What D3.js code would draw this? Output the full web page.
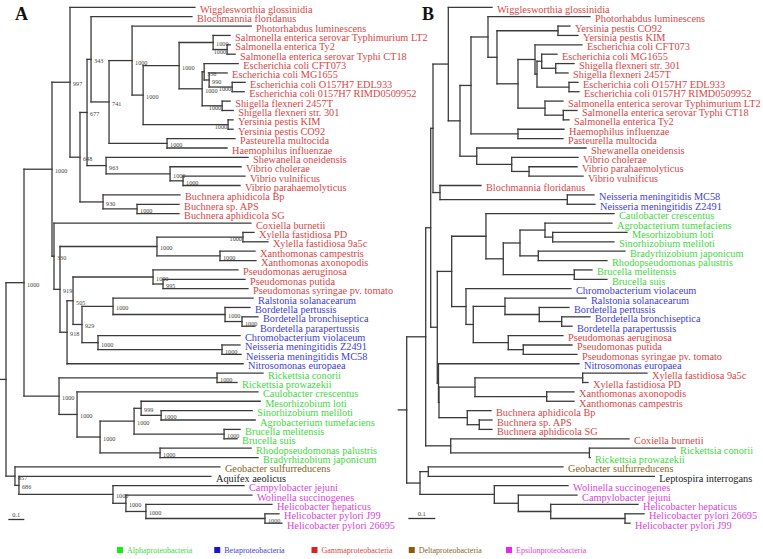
<!DOCTYPE html>
<html><head><meta charset="utf-8">
<script src="https://cdn.jsdelivr.net/npm/d3@7"></script>
<style>body{margin:0;background:#fff}svg{display:block}</style>
</head><body><svg id="c" width="763" height="559"></svg>
<script>
// ---------------- DATA ----------------
// Tree A (bootstrap-supported), branch lengths in substitutions/site
const newickA = "((((Wigglesworthia glossinidia:0.781,(((Blochmannia floridanus:0.631,((Photorhabdus luminescens:0.744,(((Salmonella enterica serovar Typhimurium LT2:0.106,(Salmonella enterica Ty2:0.019,Salmonella enterica serovar Typhi CT18:0.05)1000:0.0875)1000:0.2125,((Escherichia coli CFT073:0.2125,(Escherichia coli MG1655:0.1125,(Escherichia coli O157H7 EDL933:0.081,Escherichia coli 0157H7 RIMD0509952:0.075)1000:0.144)990:0.031)538:0.0125,(Shigella flexneri 2457T:0.05,Shigella flexneri str. 301:0.069)1000:0.125)1000:0.144)1000:0.225,(Yersinia pestis KIM:0.031,Yersinia pestis CO92:0.031)1000:0.531)1000:0.069)1000:0.144,(Pasteurella multocida:0.425,Haemophilus influenzae:0.375)1000:0.3625)741:0.1125)343:0.025,(Shewanella oneidensis:0.8875,(Vibrio cholerae:0.444,(Vibrio vulnificus:0.3875,Vibrio parahaemolyticus:0.356)1000:0.081)1000:0.4)963:0.119)677:0.044,(Buchnera aphidicola Bp:0.481,(Buchnera sp. APS:0.2625,Buchnera aphidicola SG:0.2625)1000:0.2125)930:0.144)648:0.0625)997:0.1125,(Coxiella burnetii:1.231,(((Xylella fastidiosa PD:0.069,Xylella fastidiosa 9a5c:0.156)1000:0.5375,(Xanthomonas campestris:0.219,Xanthomonas axonopodis:0.225)1000:0.394)1000:0.606,(((Pseudomonas aeruginosa:0.531,(Pseudomonas putida:0.5125,Pseudomonas syringae pv. tomato:0.531)995:0.0625)1000:0.5,((Ralstonia solanacearum:0.875,(Bordetella pertussis:0.156,(Bordetella bronchiseptica:0.1,Bordetella parapertussis:0.081)1000:0.106)1000:0.7)1000:0.194,(Chromobacterium violaceum:0.8875,(Neisseria meningitidis Z2491:0.1125,Neisseria meningitidis MC58:0.119)1000:0.775)1000:0.1)929:0.056)505:0.0375,Nitrosomonas europaea:1.1)918:0.044)919:0.0375)330:0.0125)1000:0.175,((Rickettsia conorii:0.2875,Rickettsia prowazekii:0.125)1000:0.9875,(Caulobacter crescentus:1.131,(((Mesorhizobium loti:0.744,(Sinorhizobium meliloti:0.569,Agrobacterium tumefaciens:0.5875)1000:0.125)999:0.044,(Brucella melitensis:0.1,Brucella suis:0.081)1000:0.5625)1000:0.2125,(Rhodopseudomonas palustris:0.569,Bradyrhizobium japonicum:0.6125)1000:0.375)1000:0.144)1000:0.1125)1000:0.219)1000:0.1125,(Geobacter sulfurreducens:1.281,(Aquifex aeolicus:1.2,(Campylobacter jejuni:0.819,(Wolinella succinogenes:0.7875,(Helicobacter hepaticus:0.7875,(Helicobacter pylori J99:0.0875,Helicobacter pylori 26695:0.106)1000:0.744)1000:0.125)1000:0.081)1000:0.5875)686:0.025)857:0.056);";

// Tree B
const newickB = "(((((Wigglesworthia glossinidia:0.1619,(((Photorhabdus luminescens:0.3778,((Yersinia pestis CO92:0.0444,Yersinia pestis KIM:0.0741):0.2259,((Escherichia coli CFT073:0.174,((Escherichia coli MG1655:0.0567,(Shigella flexneri str. 301:0.0678,Shigella flexneri 2457T:0.0456):0.0519):0.0174,(Escherichia coli O157H7 EDL933:0.0333,Escherichia coli 0157H7 RIMD0509952:0.037):0.1185):0.0074):0.063,(Salmonella enterica serovar Typhimurium LT2:0.0667,(Salmonella enterica serovar Typhi CT18:0.0507,Salmonella enterica Ty2:0.0211):0.0678):0.1):0.0778):0.0333):0.063,(Haemophilus influenzae:0.1704,Pasteurella multocida:0.1667):0.174):0.0407,(Shewanella oneidensis:0.4048,(Vibrio cholerae:0.2456,(Vibrio parahaemolyticus:0.1778,Vibrio vulnificus:0.2):0.0641):0.1296):0.062):0.0433):0.0567,(Blochmannia floridanus:0.1519,(Neisseria meningitidis MC58:0.0989,Neisseria meningitidis Z2491:0.1026):0.4715):0.0259):0.0085,(((Caulobacter crescentus:0.4741,(((Agrobacterium tumefaciens:0.2481,(Mesorhizobium loti:0.2752,Sinorhizobium meliloti:0.227):0.0285):0.0926,(Bradyrhizobium japonicum:0.3211,Rhodopseudomonas palustris:0.2544):0.0678):0.0619,(Brucella melitensis:0.0656,Brucella suis:0.121):0.263):0.0641):0.127,(Chromobacterium violaceum:0.3889,((Ralstonia solanacearum:0.3,(Bordetella pertussis:0.11,(Bordetella bronchiseptica:0.1048,Bordetella parapertussis:0.0381):0.083):0.127):0.1174,(Pseudomonas aeruginosa:0.2026,(Pseudomonas putida:0.1804,Pseudomonas syringae pv. tomato:0.1989):0.0556):0.1296):0.027):0.053):0.0533,(Nitrosomonas europaea:0.5204,(((Xylella fastidiosa 9a5c:0.2381,Xylella fastidiosa PD:0.0196):0.3989,(Xanthomonas axonopodis:0.1011,Xanthomonas campestris:0.1011):0.2656):0.1333,(Buchnera aphidicola Bp:0.0878,(Buchnera sp. APS:0.047,Buchnera aphidicola SG:0.047):0.0444):0.1048):0.0019):0.0044):0.0244):0.0185,(Coxiella burnetii:0.6604,(Rickettsia conorii:0.3174,Rickettsia prowazekii:0.0026):0.5137):0.0926):0.0704,((Geobacter sulfurreducens:0.4989,Leptospira interrogans:0.837):0.0307,(Wolinella succinogenes:0.273,(Campylobacter jejuni:0.2174,(Helicobacter hepaticus:0.3233,(Helicobacter pylori 26695:0.0704,Helicobacter pylori J99:0.0185):0.2752):0.12):0.0889):0.2752):0.0493);";

const legendGroups = ["Alphaproteobacteria","Betaproteobacteria","Gammaproteobacteria","Deltaproteobacteria","Epsilonproteobacteria"];
const alphaTaxa = ["Rickettsia conorii","Rickettsia prowazekii","Caulobacter crescentus","Mesorhizobium loti","Sinorhizobium meliloti","Agrobacterium tumefaciens","Brucella melitensis","Brucella suis","Rhodopseudomonas palustris","Bradyrhizobium japonicum"];
const betaTaxa = ["Ralstonia solanacearum","Bordetella pertussis","Bordetella bronchiseptica","Bordetella parapertussis","Chromobacterium violaceum","Neisseria meningitidis Z2491","Neisseria meningitidis MC58","Nitrosomonas europaea"];
const deltaTaxa = ["Geobacter sulfurreducens"];
const epsilonTaxa = ["Campylobacter jejuni","Wolinella succinogenes","Helicobacter hepaticus","Helicobacter pylori J99","Helicobacter pylori 26695"];
const otherTaxa = ["Aquifex aeolicus","Leptospira interrogans"];
const scaleBarValue = [0.1];

// ---------------- STYLE ----------------
const groupColor = d3.scaleOrdinal()
  .domain(["Alphaproteobacteria","Betaproteobacteria","Gammaproteobacteria","Deltaproteobacteria","Epsilonproteobacteria","other"])
  .range(["#3fd83f","#3d3dd6","#d84646","#8a6422","#d845d8","#222"]);
const legendSwatch = d3.scaleOrdinal().domain(legendGroups)
  .range(["#11ee11","#1515dd","#dd2020","#8b5a0a","#ee22ee"]);

function groupOf(name){
  if (alphaTaxa.includes(name)) return "Alphaproteobacteria";
  if (betaTaxa.includes(name)) return "Betaproteobacteria";
  if (deltaTaxa.includes(name)) return "Deltaproteobacteria";
  if (epsilonTaxa.includes(name)) return "Epsilonproteobacteria";
  if (otherTaxa.includes(name)) return "other";
  return "Gammaproteobacteria";
}

function parseNewick(s){
  let i = 0;
  function node(){
    const n = {};
    if (s[i] === '('){
      i++; n.children = [];
      while (true){ n.children.push(node()); if (s[i] === ','){ i++; } else break; }
      i++;
    }
    let name = '';
    while (i < s.length && !',():;'.includes(s[i])) name += s[i++];
    n.name = name.trim();
    n.length = 0;
    if (s[i] === ':'){
      i++; let num = '';
      while (i < s.length && !',();'.includes(s[i])) num += s[i++];
      n.length = +num;
    }
    return n;
  }
  return node();
}

const svg = d3.select("#c");
const FONT = "'Liberation Serif','Times New Roman',serif";

function drawTree(newick, x0, pxPerUnit, showSupport, stub){
  const root = d3.hierarchy(parseNewick(newick));
  root.eachBefore(d => { d.dist = d.parent ? d.parent.dist + d.data.length : 0; });
  const leaves = root.leaves();
  const y = d3.scaleLinear().domain([0, leaves.length - 1]).range([7.3, 523.2]);
  const x = d3.scaleLinear().domain([0, 1]).range([x0, x0 + pxPerUnit]);
  leaves.forEach((d, i) => d.yy = y(i));
  root.eachAfter(d => { if (d.children) d.yy = (d.children[0].yy + d.children[d.children.length-1].yy) / 2; });

  const g = svg.append("g");
  const segs = [];
  root.descendants().forEach(d => {
    if (d.parent) segs.push([x(d.parent.dist), d.yy, x(d.dist), d.yy]);
    else segs.push([x(0) - stub, d.yy, x(0), d.yy]);
    if (d.children) segs.push([x(d.dist), d.children[0].yy, x(d.dist), d.children[d.children.length-1].yy]);
  });
  g.selectAll("line.br").data(segs).join("line").attr("class","br")
    .attr("x1", s => s[0]).attr("y1", s => s[1]).attr("x2", s => s[2]).attr("y2", s => s[3])
    .attr("stroke", "#3a3a3a").attr("stroke-width", 1.3).attr("stroke-linecap","square");

  g.selectAll("text.leaf").data(leaves).join("text").attr("class","leaf")
    .attr("x", d => x(d.dist) + 5).attr("y", d => d.yy + 5.5)
    .attr("font-family", FONT).attr("font-size", 10.3)
    .attr("fill", d => groupColor(groupOf(d.data.name)))
    .text(d => d.data.name);

  if (showSupport){
    const inner = root.descendants().filter(d => d.children && d.data.name);
    // put the label left of the node when a child's leaf text starts right after it
    const tight = d => d.children.some(c => !c.children && x(c.dist) + 5 < x(d.dist) + 17);
    g.selectAll("text.sup").data(inner).join("text").attr("class","sup")
      .attr("x", d => tight(d) ? x(d.dist) - 1 : x(d.dist) + 3)
      .attr("y", d => d.yy + 4)
      .attr("text-anchor", d => tight(d) ? "end" : "start")
      .attr("font-family", FONT).attr("font-size", 6.2).attr("fill", "#444")
      .text(d => d.data.name);
  }
  return x;
}

const xA = drawTree(newickA, 6, 160, true, 6);
const xB = drawTree(newickB, 406.7, 270, false, 8.4);

// scale bars
function scaleBar(x, left, yLine){
  const w = x(scaleBarValue[0]) - x(0);
  svg.append("line").attr("x1", left).attr("x2", left + w).attr("y1", yLine).attr("y2", yLine)
    .attr("stroke", "#333").attr("stroke-width", 1.3);
  svg.append("text").attr("x", left + w/2).attr("y", yLine - 3).attr("text-anchor","middle")
    .attr("font-family", FONT).attr("font-size", 6.5).attr("fill","#444").text(String(scaleBarValue[0]));
}
scaleBar(xA, 8.3, 519.5);
scaleBar(xB, 408.3, 518.5);

// panel letters
svg.append("text").attr("x", 15).attr("y", 20).attr("font-family", FONT).attr("font-weight","bold")
  .attr("font-size", 18).attr("fill","#111").text("A");
svg.append("text").attr("x", 422).attr("y", 20).attr("font-family", FONT).attr("font-weight","bold")
  .attr("font-size", 18).attr("fill","#111").text("B");

// legend
const legendX = d3.scalePoint().domain(legendGroups).range([117, 506]);
const lg = svg.append("g");
lg.selectAll("rect").data(legendGroups).join("rect")
  .attr("x", d => legendX(d)).attr("y", 547).attr("width", 6).attr("height", 6)
  .attr("fill", d => legendSwatch(d));
lg.selectAll("text").data(legendGroups).join("text")
  .attr("x", d => legendX(d) + 10).attr("y", 553)
  .attr("font-family", FONT).attr("font-size", 8).attr("fill", d => groupColor(d)).text(d => d);
</script>
</body></html>
